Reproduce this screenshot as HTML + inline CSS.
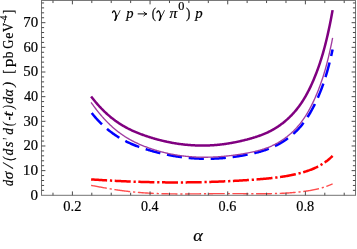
<!DOCTYPE html>
<html><head><meta charset="utf-8"><title>plot</title>
<style>html,body{margin:0;padding:0;background:#fff;}body{width:357px;height:249px;overflow:hidden;font-family:"Liberation Serif",serif;}</style>
</head><body>
<svg width="357" height="249" viewBox="0 0 357 249" style="display:block;will-change:transform">
<rect width="357" height="249" fill="#fff"/>
<path d="M91.10,185.38 L91.71,185.49 L92.31,185.60 L92.92,185.71 L93.52,185.82 L94.13,185.93 L94.73,186.04 L95.34,186.15 L95.94,186.27 L96.55,186.38 L97.15,186.49 L97.76,186.60 L98.36,186.71 L98.97,186.82 L99.57,186.94 L100.18,187.05 L100.78,187.16 L101.39,187.27 L101.99,187.38 L102.60,187.49 L103.21,187.60 L103.81,187.71 L104.42,187.82 L105.02,187.93 L105.63,188.04 L106.23,188.15 L106.84,188.25 L107.44,188.36 L108.05,188.47 L108.65,188.57 L109.26,188.68 L109.86,188.78 L110.47,188.88 L111.07,188.98 L111.68,189.09 L112.28,189.19 L112.89,189.28 L113.49,189.38 L114.10,189.48 L114.71,189.58 L115.31,189.67 L115.92,189.76 L116.52,189.86 L117.13,189.95 L117.73,190.04 L118.34,190.12 L118.94,190.21 L119.55,190.30 L120.15,190.38 L120.76,190.47 L121.36,190.55 L121.97,190.63 L122.57,190.71 L123.18,190.79 L123.78,190.87 L124.39,190.95 L124.99,191.02 L125.60,191.10 L126.21,191.17 L126.81,191.24 L127.42,191.31 L128.02,191.38 L128.63,191.45 L129.23,191.52 L129.84,191.59 L130.44,191.65 L131.05,191.72 L131.65,191.78 L132.26,191.84 L132.86,191.90 L133.47,191.96 L134.07,192.02 L134.68,192.08 L135.28,192.14 L135.89,192.19 L136.49,192.25 L137.10,192.30 L137.71,192.36 L138.31,192.41 L138.92,192.46 L139.52,192.51 L140.13,192.56 L140.73,192.60 L141.34,192.65 L141.94,192.70 L142.55,192.74 L143.15,192.78 L143.76,192.83 L144.36,192.87 L144.97,192.91 L145.57,192.95 L146.18,192.99 L146.78,193.02 L147.39,193.06 L147.99,193.10 L148.60,193.13 L149.21,193.17 L149.81,193.20 L150.42,193.23 L151.02,193.26 L151.63,193.29 L152.23,193.32 L152.84,193.35 L153.44,193.38 L154.05,193.41 L154.65,193.43 L155.26,193.46 L155.86,193.49 L156.47,193.51 L157.07,193.53 L157.68,193.56 L158.28,193.58 L158.89,193.60 L159.49,193.62 L160.10,193.64 L160.71,193.66 L161.31,193.68 L161.92,193.69 L162.52,193.71 L163.13,193.73 L163.73,193.74 L164.34,193.76 L164.94,193.77 L165.55,193.78 L166.15,193.80 L166.76,193.81 L167.36,193.82 L167.97,193.83 L168.57,193.84 L169.18,193.85 L169.78,193.86 L170.39,193.87 L170.99,193.88 L171.60,193.89 L172.21,193.89 L172.81,193.90 L173.42,193.91 L174.02,193.91 L174.63,193.92 L175.23,193.92 L175.84,193.93 L176.44,193.93 L177.05,193.93 L177.65,193.94 L178.26,193.94 L178.86,193.94 L179.47,193.94 L180.07,193.94 L180.68,193.95 L181.28,193.95 L181.89,193.95 L182.49,193.95 L183.10,193.94 L183.71,193.94 L184.31,193.94 L184.92,193.94 L185.52,193.94 L186.13,193.94 L186.73,193.93 L187.34,193.93 L187.94,193.93 L188.55,193.92 L189.15,193.92 L189.76,193.92 L190.36,193.91 L190.97,193.91 L191.57,193.90 L192.18,193.90 L192.78,193.89 L193.39,193.89 L193.99,193.88 L194.60,193.88 L195.21,193.87 L195.81,193.87 L196.42,193.86 L197.02,193.85 L197.63,193.85 L198.23,193.84 L198.84,193.83 L199.44,193.83 L200.05,193.82 L200.65,193.81 L201.26,193.81 L201.86,193.80 L202.47,193.79 L203.07,193.79 L203.68,193.78 L204.28,193.77 L204.89,193.76 L205.49,193.76 L206.10,193.75 L206.71,193.74 L207.31,193.74 L207.92,193.73 L208.52,193.72 L209.13,193.71 L209.73,193.71 L210.34,193.70 L210.94,193.69 L211.55,193.69 L212.15,193.68 L212.76,193.68 L213.36,193.67 L213.97,193.66 L214.57,193.66 L215.18,193.65 L215.78,193.65 L216.39,193.64 L216.99,193.63 L217.60,193.63 L218.21,193.62 L218.81,193.62 L219.42,193.62 L220.02,193.61 L220.63,193.61 L221.23,193.60 L221.84,193.60 L222.44,193.60 L223.05,193.59 L223.65,193.59 L224.26,193.59 L224.86,193.59 L225.47,193.58 L226.07,193.58 L226.68,193.58 L227.28,193.58 L227.89,193.58 L228.49,193.58 L229.10,193.58 L229.71,193.58 L230.31,193.58 L230.92,193.58 L231.52,193.59 L232.13,193.59 L232.73,193.59 L233.34,193.59 L233.94,193.60 L234.55,193.60 L235.15,193.61 L235.76,193.61 L236.36,193.61 L236.97,193.62 L237.57,193.62 L238.18,193.63 L238.78,193.63 L239.39,193.64 L239.99,193.64 L240.60,193.65 L241.21,193.65 L241.81,193.66 L242.42,193.66 L243.02,193.67 L243.63,193.68 L244.23,193.68 L244.84,193.69 L245.44,193.69 L246.05,193.70 L246.65,193.70 L247.26,193.71 L247.86,193.72 L248.47,193.72 L249.07,193.73 L249.68,193.73 L250.28,193.74 L250.89,193.74 L251.49,193.74 L252.10,193.75 L252.71,193.75 L253.31,193.76 L253.92,193.76 L254.52,193.76 L255.13,193.77 L255.73,193.77 L256.34,193.77 L256.94,193.77 L257.55,193.77 L258.15,193.77 L258.76,193.78 L259.36,193.78 L259.97,193.78 L260.57,193.77 L261.18,193.77 L261.78,193.77 L262.39,193.77 L262.99,193.77 L263.60,193.76 L264.21,193.76 L264.81,193.76 L265.42,193.75 L266.02,193.74 L266.63,193.74 L267.23,193.73 L267.84,193.72 L268.44,193.72 L269.05,193.71 L269.65,193.70 L270.26,193.69 L270.86,193.68 L271.47,193.66 L272.07,193.65 L272.68,193.64 L273.28,193.62 L273.89,193.61 L274.49,193.59 L275.10,193.57 L275.71,193.56 L276.31,193.54 L276.92,193.52 L277.52,193.50 L278.13,193.48 L278.73,193.45 L279.34,193.43 L279.94,193.40 L280.55,193.38 L281.15,193.35 L281.76,193.32 L282.36,193.30 L282.97,193.27 L283.57,193.23 L284.18,193.20 L284.78,193.17 L285.39,193.13 L285.99,193.10 L286.60,193.06 L287.21,193.02 L287.81,192.98 L288.42,192.94 L289.02,192.90 L289.63,192.86 L290.23,192.81 L290.84,192.77 L291.44,192.72 L292.05,192.67 L292.65,192.62 L293.26,192.57 L293.86,192.52 L294.47,192.46 L295.07,192.41 L295.68,192.35 L296.28,192.29 L296.89,192.23 L297.49,192.17 L298.10,192.11 L298.71,192.04 L299.31,191.97 L299.92,191.91 L300.52,191.84 L301.13,191.77 L301.73,191.69 L302.34,191.62 L302.94,191.54 L303.55,191.46 L304.15,191.38 L304.76,191.30 L305.36,191.22 L305.97,191.14 L306.57,191.05 L307.18,190.96 L307.78,190.87 L308.39,190.77 L308.99,190.68 L309.60,190.58 L310.21,190.48 L310.81,190.37 L311.42,190.27 L312.02,190.16 L312.63,190.04 L313.23,189.93 L313.84,189.81 L314.44,189.68 L315.05,189.55 L315.65,189.42 L316.26,189.29 L316.86,189.15 L317.47,189.01 L318.07,188.86 L318.68,188.71 L319.28,188.56 L319.89,188.40 L320.49,188.23 L321.10,188.06 L321.71,187.89 L322.31,187.71 L322.92,187.53 L323.52,187.34 L324.13,187.14 L324.73,186.94 L325.34,186.74 L325.94,186.53 L326.55,186.31 L327.15,186.09 L327.76,185.86 L328.36,185.62 L328.97,185.38 L329.57,185.14 L330.18,184.88 L330.78,184.62 L331.39,184.36 L331.99,184.08 L332.60,183.80" stroke="#ff4d4d" stroke-width="1.4" fill="none" stroke-dasharray="16.0 2.85 2.2 2.6"/>
<path d="M91.10,179.38 L91.71,179.43 L92.31,179.47 L92.92,179.51 L93.52,179.55 L94.13,179.59 L94.73,179.63 L95.34,179.67 L95.94,179.71 L96.55,179.75 L97.15,179.79 L97.76,179.83 L98.36,179.87 L98.97,179.91 L99.57,179.95 L100.18,179.99 L100.78,180.02 L101.39,180.06 L101.99,180.10 L102.60,180.14 L103.21,180.17 L103.81,180.21 L104.42,180.24 L105.02,180.28 L105.63,180.32 L106.23,180.35 L106.84,180.39 L107.44,180.42 L108.05,180.46 L108.65,180.49 L109.26,180.52 L109.86,180.56 L110.47,180.59 L111.07,180.62 L111.68,180.66 L112.28,180.69 L112.89,180.72 L113.49,180.75 L114.10,180.79 L114.71,180.82 L115.31,180.85 L115.92,180.88 L116.52,180.91 L117.13,180.94 L117.73,180.97 L118.34,181.00 L118.94,181.03 L119.55,181.06 L120.15,181.09 L120.76,181.11 L121.36,181.14 L121.97,181.17 L122.57,181.20 L123.18,181.22 L123.78,181.25 L124.39,181.28 L124.99,181.30 L125.60,181.33 L126.21,181.36 L126.81,181.38 L127.42,181.41 L128.02,181.43 L128.63,181.46 L129.23,181.48 L129.84,181.50 L130.44,181.53 L131.05,181.55 L131.65,181.58 L132.26,181.60 L132.86,181.62 L133.47,181.64 L134.07,181.66 L134.68,181.69 L135.28,181.71 L135.89,181.73 L136.49,181.75 L137.10,181.77 L137.71,181.79 L138.31,181.81 L138.92,181.83 L139.52,181.85 L140.13,181.87 L140.73,181.89 L141.34,181.90 L141.94,181.92 L142.55,181.94 L143.15,181.96 L143.76,181.97 L144.36,181.99 L144.97,182.01 L145.57,182.02 L146.18,182.04 L146.78,182.05 L147.39,182.07 L147.99,182.08 L148.60,182.10 L149.21,182.11 L149.81,182.13 L150.42,182.14 L151.02,182.15 L151.63,182.17 L152.23,182.18 L152.84,182.19 L153.44,182.20 L154.05,182.22 L154.65,182.23 L155.26,182.24 L155.86,182.25 L156.47,182.26 L157.07,182.27 L157.68,182.28 L158.28,182.29 L158.89,182.30 L159.49,182.31 L160.10,182.32 L160.71,182.32 L161.31,182.33 L161.92,182.34 L162.52,182.35 L163.13,182.36 L163.73,182.36 L164.34,182.37 L164.94,182.37 L165.55,182.38 L166.15,182.39 L166.76,182.39 L167.36,182.40 L167.97,182.40 L168.57,182.40 L169.18,182.41 L169.78,182.41 L170.39,182.42 L170.99,182.42 L171.60,182.42 L172.21,182.42 L172.81,182.42 L173.42,182.43 L174.02,182.43 L174.63,182.43 L175.23,182.43 L175.84,182.43 L176.44,182.43 L177.05,182.43 L177.65,182.43 L178.26,182.43 L178.86,182.43 L179.47,182.42 L180.07,182.42 L180.68,182.42 L181.28,182.42 L181.89,182.42 L182.49,182.41 L183.10,182.41 L183.71,182.40 L184.31,182.40 L184.92,182.40 L185.52,182.39 L186.13,182.39 L186.73,182.38 L187.34,182.37 L187.94,182.37 L188.55,182.36 L189.15,182.35 L189.76,182.35 L190.36,182.34 L190.97,182.33 L191.57,182.32 L192.18,182.31 L192.78,182.31 L193.39,182.30 L193.99,182.29 L194.60,182.28 L195.21,182.27 L195.81,182.26 L196.42,182.25 L197.02,182.23 L197.63,182.22 L198.23,182.21 L198.84,182.20 L199.44,182.19 L200.05,182.17 L200.65,182.16 L201.26,182.15 L201.86,182.13 L202.47,182.12 L203.07,182.10 L203.68,182.09 L204.28,182.07 L204.89,182.06 L205.49,182.04 L206.10,182.03 L206.71,182.01 L207.31,181.99 L207.92,181.97 L208.52,181.96 L209.13,181.94 L209.73,181.92 L210.34,181.90 L210.94,181.88 L211.55,181.86 L212.15,181.84 L212.76,181.82 L213.36,181.80 L213.97,181.78 L214.57,181.76 L215.18,181.74 L215.78,181.72 L216.39,181.69 L216.99,181.67 L217.60,181.65 L218.21,181.63 L218.81,181.60 L219.42,181.58 L220.02,181.55 L220.63,181.53 L221.23,181.51 L221.84,181.48 L222.44,181.45 L223.05,181.43 L223.65,181.40 L224.26,181.37 L224.86,181.35 L225.47,181.32 L226.07,181.29 L226.68,181.26 L227.28,181.24 L227.89,181.21 L228.49,181.18 L229.10,181.15 L229.71,181.12 L230.31,181.09 L230.92,181.06 L231.52,181.03 L232.13,181.00 L232.73,180.96 L233.34,180.93 L233.94,180.90 L234.55,180.87 L235.15,180.83 L235.76,180.80 L236.36,180.77 L236.97,180.73 L237.57,180.70 L238.18,180.66 L238.78,180.63 L239.39,180.59 L239.99,180.56 L240.60,180.52 L241.21,180.48 L241.81,180.45 L242.42,180.41 L243.02,180.37 L243.63,180.33 L244.23,180.29 L244.84,180.25 L245.44,180.22 L246.05,180.18 L246.65,180.14 L247.26,180.10 L247.86,180.05 L248.47,180.01 L249.07,179.97 L249.68,179.93 L250.28,179.89 L250.89,179.85 L251.49,179.80 L252.10,179.76 L252.71,179.72 L253.31,179.67 L253.92,179.63 L254.52,179.58 L255.13,179.54 L255.73,179.49 L256.34,179.45 L256.94,179.40 L257.55,179.35 L258.15,179.31 L258.76,179.26 L259.36,179.21 L259.97,179.16 L260.57,179.11 L261.18,179.06 L261.78,179.01 L262.39,178.96 L262.99,178.91 L263.60,178.86 L264.21,178.81 L264.81,178.75 L265.42,178.70 L266.02,178.64 L266.63,178.59 L267.23,178.53 L267.84,178.47 L268.44,178.41 L269.05,178.35 L269.65,178.29 L270.26,178.23 L270.86,178.17 L271.47,178.10 L272.07,178.03 L272.68,177.97 L273.28,177.90 L273.89,177.83 L274.49,177.76 L275.10,177.69 L275.71,177.61 L276.31,177.54 L276.92,177.46 L277.52,177.38 L278.13,177.30 L278.73,177.22 L279.34,177.14 L279.94,177.06 L280.55,176.97 L281.15,176.88 L281.76,176.79 L282.36,176.70 L282.97,176.61 L283.57,176.51 L284.18,176.42 L284.78,176.32 L285.39,176.22 L285.99,176.12 L286.60,176.01 L287.21,175.90 L287.81,175.79 L288.42,175.68 L289.02,175.57 L289.63,175.46 L290.23,175.34 L290.84,175.22 L291.44,175.10 L292.05,174.97 L292.65,174.85 L293.26,174.72 L293.86,174.59 L294.47,174.45 L295.07,174.31 L295.68,174.18 L296.28,174.03 L296.89,173.89 L297.49,173.74 L298.10,173.59 L298.71,173.44 L299.31,173.29 L299.92,173.13 L300.52,172.97 L301.13,172.81 L301.73,172.64 L302.34,172.47 L302.94,172.30 L303.55,172.12 L304.15,171.94 L304.76,171.76 L305.36,171.58 L305.97,171.39 L306.57,171.20 L307.18,171.00 L307.78,170.80 L308.39,170.59 L308.99,170.38 L309.60,170.17 L310.21,169.94 L310.81,169.72 L311.42,169.48 L312.02,169.25 L312.63,169.00 L313.23,168.75 L313.84,168.49 L314.44,168.23 L315.05,167.95 L315.65,167.67 L316.26,167.39 L316.86,167.09 L317.47,166.79 L318.07,166.48 L318.68,166.16 L319.28,165.83 L319.89,165.49 L320.49,165.15 L321.10,164.79 L321.71,164.42 L322.31,164.05 L322.92,163.66 L323.52,163.27 L324.13,162.86 L324.73,162.44 L325.34,162.02 L325.94,161.58 L326.55,161.13 L327.15,160.66 L327.76,160.19 L328.36,159.70 L328.97,159.20 L329.57,158.69 L330.18,158.17 L330.78,157.63 L331.39,157.08 L331.99,156.52 L332.60,155.94" stroke="#ff0000" stroke-width="2.5" fill="none" stroke-dasharray="16.05 2.8 2.25 2.55"/>
<path d="M91.71,113.07 L92.31,113.82 L92.92,114.55 L93.52,115.27 L94.13,115.98 L94.73,116.68 L95.34,117.37 L95.94,118.05 L96.55,118.72 L97.15,119.38 L97.76,120.03 L98.36,120.67 L98.97,121.31 L99.57,121.93 L100.18,122.54 L100.78,123.15 L101.39,123.74 L101.99,124.33 L102.60,124.90 L103.21,125.47 L103.81,126.03 L104.42,126.58 L105.02,127.12 L105.63,127.66 L106.23,128.18 L106.84,128.70 L107.44,129.21 L108.05,129.71 L108.65,130.20 L109.26,130.69 L109.86,131.16 L110.47,131.63 L111.07,132.10 L111.68,132.55 L112.28,133.00 L112.89,133.44 L113.49,133.87 L114.10,134.30 L114.71,134.72 L115.31,135.13 L115.92,135.53 L116.52,135.93 L117.13,136.32 L117.73,136.71 L118.34,137.09 L118.94,137.46 L119.55,137.83 L120.15,138.19 L120.76,138.54 L121.36,138.89 L121.97,139.23 L122.57,139.57 L123.18,139.90 L123.78,140.23 L124.39,140.55 L124.99,140.86 L125.60,141.17 L126.21,141.48 L126.81,141.78 L127.42,142.07 L128.02,142.36 L128.63,142.65 L129.23,142.93 L129.84,143.20 L130.44,143.48 L131.05,143.74 L131.65,144.01 L132.26,144.27 L132.86,144.52 L133.47,144.77 L134.07,145.02 L134.68,145.26 L135.28,145.50 L135.89,145.74 L136.49,145.97 L137.10,146.20 L137.71,146.42 L138.31,146.64 L138.92,146.86 L139.52,147.08 L140.13,147.29 L140.73,147.50 L141.34,147.71 L141.94,147.92 L142.55,148.12 L143.15,148.32 L143.76,148.52 L144.36,148.72 L144.97,148.91 L145.57,149.10 L146.18,149.29 L146.78,149.48 L147.39,149.66 L147.99,149.85 L148.60,150.03 L149.21,150.21 L149.81,150.39 L150.42,150.57 L151.02,150.74 L151.63,150.91 L152.23,151.09 L152.84,151.26 L153.44,151.42 L154.05,151.59 L154.65,151.75 L155.26,151.91 L155.86,152.07 L156.47,152.23 L157.07,152.39 L157.68,152.54 L158.28,152.69 L158.89,152.84 L159.49,152.99 L160.10,153.14 L160.71,153.29 L161.31,153.43 L161.92,153.57 L162.52,153.71 L163.13,153.85 L163.73,153.98 L164.34,154.12 L164.94,154.25 L165.55,154.38 L166.15,154.51 L166.76,154.63 L167.36,154.76 L167.97,154.88 L168.57,155.00 L169.18,155.12 L169.78,155.23 L170.39,155.35 L170.99,155.46 L171.60,155.57 L172.21,155.68 L172.81,155.79 L173.42,155.90 L174.02,156.00 L174.63,156.10 L175.23,156.20 L175.84,156.30 L176.44,156.39 L177.05,156.49 L177.65,156.58 L178.26,156.67 L178.86,156.76 L179.47,156.85 L180.07,156.93 L180.68,157.01 L181.28,157.09 L181.89,157.17 L182.49,157.25 L183.10,157.33 L183.71,157.40 L184.31,157.47 L184.92,157.54 L185.52,157.61 L186.13,157.67 L186.73,157.74 L187.34,157.80 L187.94,157.86 L188.55,157.92 L189.15,157.97 L189.76,158.03 L190.36,158.08 L190.97,158.13 L191.57,158.18 L192.18,158.23 L192.78,158.27 L193.39,158.32 L193.99,158.36 L194.60,158.40 L195.21,158.43 L195.81,158.47 L196.42,158.50 L197.02,158.53 L197.63,158.56 L198.23,158.59 L198.84,158.62 L199.44,158.64 L200.05,158.66 L200.65,158.68 L201.26,158.70 L201.86,158.72 L202.47,158.73 L203.07,158.75 L203.68,158.76 L204.28,158.76 L204.89,158.77 L205.49,158.78 L206.10,158.78 L206.71,158.78 L207.31,158.78 L207.92,158.78 L208.52,158.77 L209.13,158.77 L209.73,158.76 L210.34,158.75 L210.94,158.73 L211.55,158.72 L212.15,158.70 L212.76,158.69 L213.36,158.67 L213.97,158.64 L214.57,158.62 L215.18,158.59 L215.78,158.57 L216.39,158.54 L216.99,158.51 L217.60,158.47 L218.21,158.44 L218.81,158.40 L219.42,158.36 L220.02,158.32 L220.63,158.28 L221.23,158.23 L221.84,158.19 L222.44,158.14 L223.05,158.09 L223.65,158.04 L224.26,157.98 L224.86,157.93 L225.47,157.87 L226.07,157.81 L226.68,157.75 L227.28,157.69 L227.89,157.62 L228.49,157.55 L229.10,157.49 L229.71,157.42 L230.31,157.34 L230.92,157.27 L231.52,157.20 L232.13,157.12 L232.73,157.04 L233.34,156.96 L233.94,156.88 L234.55,156.79 L235.15,156.71 L235.76,156.62 L236.36,156.53 L236.97,156.44 L237.57,156.35 L238.18,156.25 L238.78,156.16 L239.39,156.06 L239.99,155.96 L240.60,155.86 L241.21,155.76 L241.81,155.65 L242.42,155.55 L243.02,155.44 L243.63,155.33 L244.23,155.22 L244.84,155.11 L245.44,154.99 L246.05,154.88 L246.65,154.76 L247.26,154.64 L247.86,154.52 L248.47,154.40 L249.07,154.27 L249.68,154.15 L250.28,154.02 L250.89,153.89 L251.49,153.76 L252.10,153.63 L252.71,153.50 L253.31,153.36 L253.92,153.22 L254.52,153.08 L255.13,152.94 L255.73,152.79 L256.34,152.64 L256.94,152.49 L257.55,152.34 L258.15,152.18 L258.76,152.02 L259.36,151.85 L259.97,151.68 L260.57,151.51 L261.18,151.33 L261.78,151.15 L262.39,150.97 L262.99,150.78 L263.60,150.59 L264.21,150.39 L264.81,150.19 L265.42,149.99 L266.02,149.78 L266.63,149.56 L267.23,149.34 L267.84,149.12 L268.44,148.89 L269.05,148.65 L269.65,148.41 L270.26,148.17 L270.86,147.92 L271.47,147.66 L272.07,147.40 L272.68,147.14 L273.28,146.86 L273.89,146.58 L274.49,146.30 L275.10,146.01 L275.71,145.71 L276.31,145.41 L276.92,145.10 L277.52,144.78 L278.13,144.46 L278.73,144.13 L279.34,143.79 L279.94,143.45 L280.55,143.10 L281.15,142.74 L281.76,142.38 L282.36,142.01 L282.97,141.63 L283.57,141.24 L284.18,140.84 L284.78,140.44 L285.39,140.03 L285.99,139.61 L286.60,139.19 L287.21,138.75 L287.81,138.31 L288.42,137.86 L289.02,137.40 L289.63,136.93 L290.23,136.45 L290.84,135.97 L291.44,135.47 L292.05,134.97 L292.65,134.45 L293.26,133.93 L293.86,133.39 L294.47,132.84 L295.07,132.28 L295.68,131.70 L296.28,131.11 L296.89,130.51 L297.49,129.89 L298.10,129.26 L298.71,128.61 L299.31,127.95 L299.92,127.27 L300.52,126.57 L301.13,125.86 L301.73,125.12 L302.34,124.37 L302.94,123.60 L303.55,122.81 L304.15,122.00 L304.76,121.17 L305.36,120.32 L305.97,119.45 L306.57,118.56 L307.18,117.64 L307.78,116.71 L308.39,115.75 L308.99,114.77 L309.60,113.77 L310.21,112.74 L310.81,111.69 L311.42,110.62 L312.02,109.52 L312.63,108.40 L313.23,107.25 L313.84,106.08 L314.44,104.88 L315.05,103.66 L315.65,102.41 L316.26,101.14 L316.86,99.84 L317.47,98.51 L318.07,97.15 L318.68,95.76 L319.28,94.34 L319.89,92.88 L320.49,91.38 L321.10,89.84 L321.71,88.25 L322.31,86.62 L322.92,84.94 L323.52,83.21 L324.13,81.43 L324.73,79.59 L325.34,77.69 L325.94,75.73 L326.55,73.70 L327.15,71.62 L327.76,69.46 L328.36,67.23 L328.97,64.94 L329.57,62.56 L330.18,60.11 L330.78,57.58 L331.39,54.96 L331.99,52.26 L332.60,49.48" stroke="#0000ff" stroke-width="2.5" fill="none" stroke-dasharray="15.2 6.8"/>
<path d="M91.10,102.41 L91.71,103.27 L92.31,104.12 L92.92,104.96 L93.52,105.79 L94.13,106.61 L94.73,107.42 L95.34,108.22 L95.94,109.02 L96.55,109.80 L97.15,110.57 L97.76,111.33 L98.36,112.09 L98.97,112.83 L99.57,113.56 L100.18,114.29 L100.78,115.00 L101.39,115.71 L101.99,116.41 L102.60,117.09 L103.21,117.77 L103.81,118.44 L104.42,119.10 L105.02,119.75 L105.63,120.39 L106.23,121.03 L106.84,121.65 L107.44,122.27 L108.05,122.87 L108.65,123.47 L109.26,124.06 L109.86,124.64 L110.47,125.22 L111.07,125.78 L111.68,126.34 L112.28,126.88 L112.89,127.42 L113.49,127.95 L114.10,128.48 L114.71,128.99 L115.31,129.50 L115.92,130.00 L116.52,130.49 L117.13,130.97 L117.73,131.45 L118.34,131.91 L118.94,132.37 L119.55,132.83 L120.15,133.27 L120.76,133.71 L121.36,134.14 L121.97,134.57 L122.57,134.98 L123.18,135.39 L123.78,135.80 L124.39,136.19 L124.99,136.59 L125.60,136.97 L126.21,137.35 L126.81,137.72 L127.42,138.09 L128.02,138.45 L128.63,138.80 L129.23,139.15 L129.84,139.49 L130.44,139.83 L131.05,140.16 L131.65,140.49 L132.26,140.81 L132.86,141.12 L133.47,141.43 L134.07,141.74 L134.68,142.04 L135.28,142.34 L135.89,142.63 L136.49,142.92 L137.10,143.20 L137.71,143.48 L138.31,143.75 L138.92,144.02 L139.52,144.29 L140.13,144.55 L140.73,144.81 L141.34,145.06 L141.94,145.31 L142.55,145.56 L143.15,145.80 L143.76,146.05 L144.36,146.28 L144.97,146.52 L145.57,146.75 L146.18,146.98 L146.78,147.20 L147.39,147.43 L147.99,147.65 L148.60,147.86 L149.21,148.08 L149.81,148.29 L150.42,148.50 L151.02,148.70 L151.63,148.91 L152.23,149.11 L152.84,149.31 L153.44,149.50 L154.05,149.70 L154.65,149.89 L155.26,150.07 L155.86,150.26 L156.47,150.44 L157.07,150.62 L157.68,150.80 L158.28,150.97 L158.89,151.14 L159.49,151.31 L160.10,151.48 L160.71,151.64 L161.31,151.80 L161.92,151.96 L162.52,152.12 L163.13,152.27 L163.73,152.42 L164.34,152.57 L164.94,152.72 L165.55,152.86 L166.15,153.00 L166.76,153.14 L167.36,153.28 L167.97,153.41 L168.57,153.54 L169.18,153.67 L169.78,153.80 L170.39,153.92 L170.99,154.04 L171.60,154.16 L172.21,154.28 L172.81,154.39 L173.42,154.50 L174.02,154.61 L174.63,154.72 L175.23,154.82 L175.84,154.93 L176.44,155.03 L177.05,155.12 L177.65,155.22 L178.26,155.31 L178.86,155.40 L179.47,155.49 L180.07,155.58 L180.68,155.66 L181.28,155.74 L181.89,155.82 L182.49,155.90 L183.10,155.97 L183.71,156.04 L184.31,156.11 L184.92,156.18 L185.52,156.25 L186.13,156.31 L186.73,156.37 L187.34,156.43 L187.94,156.49 L188.55,156.54 L189.15,156.60 L189.76,156.65 L190.36,156.69 L190.97,156.74 L191.57,156.78 L192.18,156.83 L192.78,156.87 L193.39,156.90 L193.99,156.94 L194.60,156.97 L195.21,157.00 L195.81,157.03 L196.42,157.06 L197.02,157.09 L197.63,157.11 L198.23,157.13 L198.84,157.15 L199.44,157.17 L200.05,157.18 L200.65,157.20 L201.26,157.21 L201.86,157.22 L202.47,157.23 L203.07,157.23 L203.68,157.23 L204.28,157.24 L204.89,157.24 L205.49,157.23 L206.10,157.23 L206.71,157.22 L207.31,157.22 L207.92,157.21 L208.52,157.19 L209.13,157.18 L209.73,157.17 L210.34,157.15 L210.94,157.13 L211.55,157.11 L212.15,157.09 L212.76,157.06 L213.36,157.03 L213.97,157.01 L214.57,156.98 L215.18,156.95 L215.78,156.91 L216.39,156.88 L216.99,156.84 L217.60,156.80 L218.21,156.76 L218.81,156.72 L219.42,156.68 L220.02,156.63 L220.63,156.58 L221.23,156.54 L221.84,156.49 L222.44,156.43 L223.05,156.38 L223.65,156.33 L224.26,156.27 L224.86,156.21 L225.47,156.15 L226.07,156.09 L226.68,156.03 L227.28,155.97 L227.89,155.90 L228.49,155.84 L229.10,155.77 L229.71,155.70 L230.31,155.63 L230.92,155.56 L231.52,155.48 L232.13,155.41 L232.73,155.33 L233.34,155.25 L233.94,155.17 L234.55,155.09 L235.15,155.01 L235.76,154.93 L236.36,154.84 L236.97,154.76 L237.57,154.67 L238.18,154.58 L238.78,154.49 L239.39,154.40 L239.99,154.30 L240.60,154.21 L241.21,154.11 L241.81,154.01 L242.42,153.91 L243.02,153.81 L243.63,153.71 L244.23,153.60 L244.84,153.49 L245.44,153.39 L246.05,153.28 L246.65,153.16 L247.26,153.05 L247.86,152.93 L248.47,152.82 L249.07,152.70 L249.68,152.58 L250.28,152.46 L250.89,152.33 L251.49,152.21 L252.10,152.08 L252.71,151.95 L253.31,151.82 L253.92,151.68 L254.52,151.54 L255.13,151.40 L255.73,151.26 L256.34,151.11 L256.94,150.96 L257.55,150.81 L258.15,150.65 L258.76,150.49 L259.36,150.33 L259.97,150.16 L260.57,149.98 L261.18,149.81 L261.78,149.62 L262.39,149.44 L262.99,149.25 L263.60,149.05 L264.21,148.85 L264.81,148.65 L265.42,148.44 L266.02,148.22 L266.63,148.00 L267.23,147.77 L267.84,147.54 L268.44,147.30 L269.05,147.06 L269.65,146.81 L270.26,146.56 L270.86,146.29 L271.47,146.03 L272.07,145.75 L272.68,145.47 L273.28,145.19 L273.89,144.89 L274.49,144.59 L275.10,144.28 L275.71,143.97 L276.31,143.65 L276.92,143.32 L277.52,142.98 L278.13,142.64 L278.73,142.28 L279.34,141.92 L279.94,141.56 L280.55,141.18 L281.15,140.80 L281.76,140.40 L282.36,140.00 L282.97,139.59 L283.57,139.17 L284.18,138.75 L284.78,138.31 L285.39,137.87 L285.99,137.41 L286.60,136.95 L287.21,136.48 L287.81,135.99 L288.42,135.50 L289.02,135.00 L289.63,134.49 L290.23,133.97 L290.84,133.44 L291.44,132.89 L292.05,132.34 L292.65,131.77 L293.26,131.20 L293.86,130.61 L294.47,130.00 L295.07,129.38 L295.68,128.75 L296.28,128.10 L296.89,127.44 L297.49,126.76 L298.10,126.07 L298.71,125.35 L299.31,124.62 L299.92,123.88 L300.52,123.11 L301.13,122.32 L301.73,121.52 L302.34,120.69 L302.94,119.84 L303.55,118.98 L304.15,118.09 L304.76,117.18 L305.36,116.24 L305.97,115.29 L306.57,114.31 L307.18,113.30 L307.78,112.28 L308.39,111.22 L308.99,110.15 L309.60,109.05 L310.21,107.92 L310.81,106.76 L311.42,105.58 L312.02,104.38 L312.63,103.14 L313.23,101.88 L313.84,100.59 L314.44,99.27 L315.05,97.92 L315.65,96.54 L316.26,95.13 L316.86,93.69 L317.47,92.22 L318.07,90.71 L318.68,89.17 L319.28,87.59 L319.89,85.97 L320.49,84.31 L321.10,82.60 L321.71,80.84 L322.31,79.03 L322.92,77.17 L323.52,75.25 L324.13,73.27 L324.73,71.23 L325.34,69.12 L325.94,66.95 L326.55,64.71 L327.15,62.40 L327.76,60.02 L328.36,57.56 L328.97,55.02 L329.57,52.40 L330.18,49.69 L330.78,46.90 L331.39,44.02 L331.99,41.05 L332.60,37.98" stroke="#a03ca0" stroke-width="1.35" fill="none"/>
<path d="M91.10,96.41 L91.71,97.20 L92.31,97.98 L92.92,98.76 L93.52,99.52 L94.13,100.27 L94.73,101.01 L95.34,101.74 L95.94,102.46 L96.55,103.17 L97.15,103.87 L97.76,104.56 L98.36,105.24 L98.97,105.91 L99.57,106.58 L100.18,107.23 L100.78,107.87 L101.39,108.50 L101.99,109.12 L102.60,109.74 L103.21,110.34 L103.81,110.94 L104.42,111.53 L105.02,112.10 L105.63,112.67 L106.23,113.23 L106.84,113.79 L107.44,114.33 L108.05,114.87 L108.65,115.39 L109.26,115.91 L109.86,116.42 L110.47,116.93 L111.07,117.42 L111.68,117.91 L112.28,118.39 L112.89,118.86 L113.49,119.33 L114.10,119.78 L114.71,120.23 L115.31,120.68 L115.92,121.11 L116.52,121.54 L117.13,121.96 L117.73,122.38 L118.34,122.79 L118.94,123.19 L119.55,123.58 L120.15,123.97 L120.76,124.36 L121.36,124.73 L121.97,125.10 L122.57,125.47 L123.18,125.83 L123.78,126.18 L124.39,126.53 L124.99,126.87 L125.60,127.20 L126.21,127.54 L126.81,127.86 L127.42,128.18 L128.02,128.50 L128.63,128.80 L129.23,129.11 L129.84,129.41 L130.44,129.70 L131.05,130.00 L131.65,130.28 L132.26,130.56 L132.86,130.84 L133.47,131.11 L134.07,131.38 L134.68,131.65 L135.28,131.91 L135.89,132.16 L136.49,132.42 L137.10,132.67 L137.71,132.91 L138.31,133.15 L138.92,133.39 L139.52,133.63 L140.13,133.86 L140.73,134.09 L141.34,134.32 L141.94,134.54 L142.55,134.76 L143.15,134.98 L143.76,135.19 L144.36,135.41 L144.97,135.62 L145.57,135.82 L146.18,136.03 L146.78,136.23 L147.39,136.43 L147.99,136.63 L148.60,136.83 L149.21,137.02 L149.81,137.22 L150.42,137.41 L151.02,137.60 L151.63,137.78 L152.23,137.97 L152.84,138.15 L153.44,138.33 L154.05,138.50 L154.65,138.68 L155.26,138.85 L155.86,139.02 L156.47,139.19 L157.07,139.36 L157.68,139.52 L158.28,139.68 L158.89,139.84 L159.49,140.00 L160.10,140.16 L160.71,140.31 L161.31,140.46 L161.92,140.61 L162.52,140.76 L163.13,140.90 L163.73,141.04 L164.34,141.18 L164.94,141.32 L165.55,141.46 L166.15,141.59 L166.76,141.72 L167.36,141.85 L167.97,141.98 L168.57,142.10 L169.18,142.23 L169.78,142.35 L170.39,142.46 L170.99,142.58 L171.60,142.69 L172.21,142.81 L172.81,142.91 L173.42,143.02 L174.02,143.13 L174.63,143.23 L175.23,143.33 L175.84,143.43 L176.44,143.52 L177.05,143.62 L177.65,143.71 L178.26,143.80 L178.86,143.89 L179.47,143.97 L180.07,144.05 L180.68,144.13 L181.28,144.21 L181.89,144.29 L182.49,144.36 L183.10,144.43 L183.71,144.50 L184.31,144.57 L184.92,144.64 L185.52,144.70 L186.13,144.76 L186.73,144.82 L187.34,144.87 L187.94,144.93 L188.55,144.98 L189.15,145.03 L189.76,145.08 L190.36,145.12 L190.97,145.16 L191.57,145.20 L192.18,145.24 L192.78,145.28 L193.39,145.31 L193.99,145.34 L194.60,145.37 L195.21,145.40 L195.81,145.43 L196.42,145.45 L197.02,145.47 L197.63,145.49 L198.23,145.50 L198.84,145.52 L199.44,145.53 L200.05,145.54 L200.65,145.54 L201.26,145.55 L201.86,145.55 L202.47,145.55 L203.07,145.55 L203.68,145.54 L204.28,145.54 L204.89,145.53 L205.49,145.52 L206.10,145.50 L206.71,145.49 L207.31,145.47 L207.92,145.45 L208.52,145.43 L209.13,145.40 L209.73,145.38 L210.34,145.35 L210.94,145.32 L211.55,145.28 L212.15,145.25 L212.76,145.21 L213.36,145.17 L213.97,145.13 L214.57,145.08 L215.18,145.03 L215.78,144.98 L216.39,144.93 L216.99,144.88 L217.60,144.82 L218.21,144.76 L218.81,144.70 L219.42,144.64 L220.02,144.57 L220.63,144.51 L221.23,144.44 L221.84,144.37 L222.44,144.29 L223.05,144.22 L223.65,144.14 L224.26,144.06 L224.86,143.97 L225.47,143.89 L226.07,143.80 L226.68,143.71 L227.28,143.62 L227.89,143.53 L228.49,143.43 L229.10,143.33 L229.71,143.23 L230.31,143.13 L230.92,143.03 L231.52,142.92 L232.13,142.81 L232.73,142.70 L233.34,142.59 L233.94,142.48 L234.55,142.36 L235.15,142.24 L235.76,142.12 L236.36,142.00 L236.97,141.87 L237.57,141.74 L238.18,141.61 L238.78,141.48 L239.39,141.35 L239.99,141.21 L240.60,141.08 L241.21,140.94 L241.81,140.80 L242.42,140.65 L243.02,140.51 L243.63,140.36 L244.23,140.21 L244.84,140.06 L245.44,139.91 L246.05,139.75 L246.65,139.59 L247.26,139.44 L247.86,139.27 L248.47,139.11 L249.07,138.95 L249.68,138.78 L250.28,138.61 L250.89,138.44 L251.49,138.27 L252.10,138.09 L252.71,137.91 L253.31,137.73 L253.92,137.55 L254.52,137.36 L255.13,137.18 L255.73,136.98 L256.34,136.79 L256.94,136.59 L257.55,136.39 L258.15,136.18 L258.76,135.97 L259.36,135.76 L259.97,135.54 L260.57,135.32 L261.18,135.10 L261.78,134.87 L262.39,134.63 L262.99,134.39 L263.60,134.15 L264.21,133.90 L264.81,133.64 L265.42,133.38 L266.02,133.12 L266.63,132.85 L267.23,132.57 L267.84,132.29 L268.44,132.00 L269.05,131.71 L269.65,131.41 L270.26,131.10 L270.86,130.78 L271.47,130.46 L272.07,130.14 L272.68,129.80 L273.28,129.46 L273.89,129.11 L274.49,128.76 L275.10,128.40 L275.71,128.03 L276.31,127.65 L276.92,127.26 L277.52,126.87 L278.13,126.46 L278.73,126.05 L279.34,125.63 L279.94,125.21 L280.55,124.77 L281.15,124.33 L281.76,123.87 L282.36,123.41 L282.97,122.94 L283.57,122.45 L284.18,121.96 L284.78,121.46 L285.39,120.95 L285.99,120.43 L286.60,119.90 L287.21,119.36 L287.81,118.81 L288.42,118.24 L289.02,117.67 L289.63,117.09 L290.23,116.49 L290.84,115.89 L291.44,115.27 L292.05,114.64 L292.65,114.00 L293.26,113.34 L293.86,112.67 L294.47,111.99 L295.07,111.29 L295.68,110.58 L296.28,109.85 L296.89,109.10 L297.49,108.34 L298.10,107.55 L298.71,106.75 L299.31,105.94 L299.92,105.10 L300.52,104.24 L301.13,103.36 L301.73,102.46 L302.34,101.54 L302.94,100.60 L303.55,99.64 L304.15,98.65 L304.76,97.64 L305.36,96.60 L305.97,95.54 L306.57,94.46 L307.18,93.34 L307.78,92.21 L308.39,91.04 L308.99,89.85 L309.60,88.63 L310.21,87.38 L310.81,86.11 L311.42,84.80 L312.02,83.47 L312.63,82.10 L313.23,80.70 L313.84,79.27 L314.44,77.81 L315.05,76.31 L315.65,74.79 L316.26,73.23 L316.86,71.63 L317.47,70.00 L318.07,68.33 L318.68,66.62 L319.28,64.87 L319.89,63.07 L320.49,61.22 L321.10,59.33 L321.71,57.38 L322.31,55.37 L322.92,53.30 L323.52,51.18 L324.13,48.99 L324.73,46.73 L325.34,44.40 L325.94,42.00 L326.55,39.53 L327.15,36.98 L327.76,34.35 L328.36,31.64 L328.97,28.84 L329.57,25.95 L330.18,22.98 L330.78,19.91 L331.39,16.75 L331.99,13.48 L332.60,10.12" stroke="#800080" stroke-width="2.5" fill="none"/>
<rect x="41.5" y="0.45" width="314.0" height="194.85000000000002" fill="none" stroke="#737373" stroke-width="1"/>
<path d="M52.99,195.3 v-2.6 M52.99,0.45 v2.6 M72.40,195.3 v-3.9 M72.40,0.45 v3.9 M91.81,195.3 v-2.6 M91.81,0.45 v2.6 M111.23,195.3 v-2.6 M111.23,0.45 v2.6 M130.65,195.3 v-2.6 M130.65,0.45 v2.6 M150.06,195.3 v-3.9 M150.06,0.45 v3.9 M169.48,195.3 v-2.6 M169.48,0.45 v2.6 M188.89,195.3 v-2.6 M188.89,0.45 v2.6 M208.31,195.3 v-2.6 M208.31,0.45 v2.6 M227.72,195.3 v-3.9 M227.72,0.45 v3.9 M247.14,195.3 v-2.6 M247.14,0.45 v2.6 M266.55,195.3 v-2.6 M266.55,0.45 v2.6 M285.97,195.3 v-2.6 M285.97,0.45 v2.6 M305.38,195.3 v-3.9 M305.38,0.45 v3.9 M324.80,195.3 v-2.6 M324.80,0.45 v2.6 M344.21,195.3 v-2.6 M344.21,0.45 v2.6 M41.5,190.37 h2.6 M355.5,190.37 h-2.6 M41.5,185.44 h2.6 M355.5,185.44 h-2.6 M41.5,180.50 h2.6 M355.5,180.50 h-2.6 M41.5,175.57 h2.6 M355.5,175.57 h-2.6 M41.5,170.64 h3.9 M355.5,170.64 h-3.9 M41.5,165.71 h2.6 M355.5,165.71 h-2.6 M41.5,160.78 h2.6 M355.5,160.78 h-2.6 M41.5,155.84 h2.6 M355.5,155.84 h-2.6 M41.5,150.91 h2.6 M355.5,150.91 h-2.6 M41.5,145.98 h3.9 M355.5,145.98 h-3.9 M41.5,141.05 h2.6 M355.5,141.05 h-2.6 M41.5,136.12 h2.6 M355.5,136.12 h-2.6 M41.5,131.18 h2.6 M355.5,131.18 h-2.6 M41.5,126.25 h2.6 M355.5,126.25 h-2.6 M41.5,121.32 h3.9 M355.5,121.32 h-3.9 M41.5,116.39 h2.6 M355.5,116.39 h-2.6 M41.5,111.46 h2.6 M355.5,111.46 h-2.6 M41.5,106.52 h2.6 M355.5,106.52 h-2.6 M41.5,101.59 h2.6 M355.5,101.59 h-2.6 M41.5,96.66 h3.9 M355.5,96.66 h-3.9 M41.5,91.73 h2.6 M355.5,91.73 h-2.6 M41.5,86.80 h2.6 M355.5,86.80 h-2.6 M41.5,81.86 h2.6 M355.5,81.86 h-2.6 M41.5,76.93 h2.6 M355.5,76.93 h-2.6 M41.5,72.00 h3.9 M355.5,72.00 h-3.9 M41.5,67.07 h2.6 M355.5,67.07 h-2.6 M41.5,62.14 h2.6 M355.5,62.14 h-2.6 M41.5,57.20 h2.6 M355.5,57.20 h-2.6 M41.5,52.27 h2.6 M355.5,52.27 h-2.6 M41.5,47.34 h3.9 M355.5,47.34 h-3.9 M41.5,42.41 h2.6 M355.5,42.41 h-2.6 M41.5,37.48 h2.6 M355.5,37.48 h-2.6 M41.5,32.54 h2.6 M355.5,32.54 h-2.6 M41.5,27.61 h2.6 M355.5,27.61 h-2.6 M41.5,22.68 h3.9 M355.5,22.68 h-3.9 M41.5,17.75 h2.6 M355.5,17.75 h-2.6 M41.5,12.82 h2.6 M355.5,12.82 h-2.6 M41.5,7.88 h2.6 M355.5,7.88 h-2.6 M41.5,2.95 h2.6 M355.5,2.95 h-2.6" stroke="#4a4a4a" stroke-width="1" fill="none"/>
<g font-family="'Liberation Serif', serif" fill="#000" stroke="#000" stroke-width="0.18">
<text transform="translate(63.25,210.50) scale(1.060,1.000)" font-size="13.7">0.2</text>
<text transform="translate(140.93,210.50) scale(1.025,1.000)" font-size="13.7">0.4</text>
<text transform="translate(218.58,210.50) scale(1.037,1.000)" font-size="13.7">0.6</text>
<text transform="translate(296.23,210.50) scale(1.045,1.000)" font-size="13.7">0.8</text>
<text transform="translate(30.62,199.75) scale(1.102,1.000)" font-size="13.7">0</text>
<text transform="translate(22.85,175.09) scale(1.119,1.000)" font-size="13.7">10</text>
<text transform="translate(23.56,150.43) scale(1.066,1.000)" font-size="13.7">20</text>
<text transform="translate(23.50,125.77) scale(1.070,1.000)" font-size="13.7">30</text>
<text transform="translate(23.92,101.11) scale(1.038,1.000)" font-size="13.7">40</text>
<text transform="translate(23.34,76.45) scale(1.082,1.000)" font-size="13.7">50</text>
<text transform="translate(23.57,51.79) scale(1.064,1.000)" font-size="13.7">60</text>
<text transform="translate(23.21,27.13) scale(1.092,1.000)" font-size="13.7">70</text>
<text transform="translate(126.25,18.25) scale(1.026,1.000)" font-size="14.2" font-style="italic">p</text>
<text transform="translate(151.65,17.75) scale(0.877,1.000)" font-size="14.2">(</text>
<text transform="translate(169.62,18.25) scale(1.100,1.000)" font-size="14.2" font-style="italic">π</text>
<text transform="translate(178.33,9.50) scale(1.136,1.100)" font-size="10.8">0</text>
<text transform="translate(186.07,17.75) scale(0.932,1.000)" font-size="14.2">)</text>
<text transform="translate(195.27,18.25) scale(1.040,1.000)" font-size="14.2" font-style="italic">p</text>
<g transform="translate(0,0)" fill="none" stroke="#000" stroke-linecap="round" stroke-linejoin="round"><path d="M112.5,12.7 Q113.0,10.8 114.1,10.9 Q115.4,11.2 116.25,16.4" stroke-width="1.25"/><path d="M116.3,16.2 Q116.3,18.6 115.0,20.2" stroke-width="1.7"/><path d="M116.4,17.3 Q118.6,14.2 120.0,10.6" stroke-width="0.75"/></g>
<g transform="translate(44.4,0)" fill="none" stroke="#000" stroke-linecap="round" stroke-linejoin="round"><path d="M112.5,12.7 Q113.0,10.8 114.1,10.9 Q115.4,11.2 116.25,16.4" stroke-width="1.25"/><path d="M116.3,16.2 Q116.3,18.6 115.0,20.2" stroke-width="1.7"/><path d="M116.4,17.3 Q118.6,14.2 120.0,10.6" stroke-width="0.75"/></g>
<path d="M137.7,13.9 H146.6 M143.6,11.7 Q144.8,13.3 146.9,13.9 Q144.8,14.5 143.6,16.1" fill="none" stroke="#000" stroke-width="0.95" stroke-linejoin="round"/>
<text transform="translate(193.36,240.80) scale(1.136,1.000)" font-size="16.0" font-style="italic">α</text>
<g transform="translate(13.45,186.0) rotate(-90)"><text transform="translate(-0.02,0.00) scale(0.850,1.090)" font-size="14.2" font-style="italic">d</text><text transform="translate(6.79,0.00) scale(1.081,1.090)" font-size="14.2" font-style="italic">σ</text><text transform="translate(17.64,0.00) scale(1.215,1.090)" font-size="14.2" font-style="italic">/</text><text transform="translate(25.48,0.00) scale(0.746,1.090)" font-size="14.2" font-style="italic">(</text><text transform="translate(30.54,0.00) scale(0.955,1.090)" font-size="14.2" font-style="italic">d</text><text transform="translate(38.87,0.00) scale(1.036,1.090)" font-size="14.2" font-style="italic">s</text><text transform="translate(45.83,0.00) scale(0.645,1.090)" font-size="14.2" font-style="italic">′</text><text transform="translate(51.15,0.00) scale(0.940,1.090)" font-size="14.2" font-style="italic">d</text><text transform="translate(59.96,0.00) scale(0.787,1.090)" font-size="14.2" font-style="italic">(</text><text transform="translate(65.48,0.00) scale(0.895,1.090)" font-size="14.2" font-style="italic">-</text><text transform="translate(69.57,0.00) scale(1.248,1.090)" font-size="14.2" font-style="italic">t</text><text transform="translate(76.91,0.00) scale(0.826,1.090)" font-size="14.2" font-style="italic">)</text><text transform="translate(82.34,0.00) scale(0.955,1.090)" font-size="14.2" font-style="italic">d</text><text transform="translate(89.54,0.00) scale(0.963,1.090)" font-size="14.2" font-style="italic">α</text><text transform="translate(99.14,0.00) scale(1.027,1.090)" font-size="14.2" font-style="italic">)</text><text transform="translate(112.58,0.00) scale(0.822,1.090)" font-size="14.2">[</text><text transform="translate(118.67,0.00) scale(1.235,1.090)" font-size="14.2">p</text><text transform="translate(127.85,0.00) scale(0.960,1.090)" font-size="14.2">b</text><text transform="translate(137.23,0.00) scale(0.899,1.090)" font-size="14.2">G</text><text transform="translate(147.20,0.00) scale(0.989,1.090)" font-size="14.2">e</text><text transform="translate(153.91,0.00) scale(0.896,1.090)" font-size="14.2">V</text><text transform="translate(172.14,0.00) scale(0.791,1.090)" font-size="14.2">]</text><text transform="translate(162.90,-6.60) scale(0.793,1.000)" font-size="10.2">-</text><text transform="translate(165.87,-6.60) scale(0.928,1.080)" font-size="10.2">4</text></g>
</g>
</svg>
</body></html>
